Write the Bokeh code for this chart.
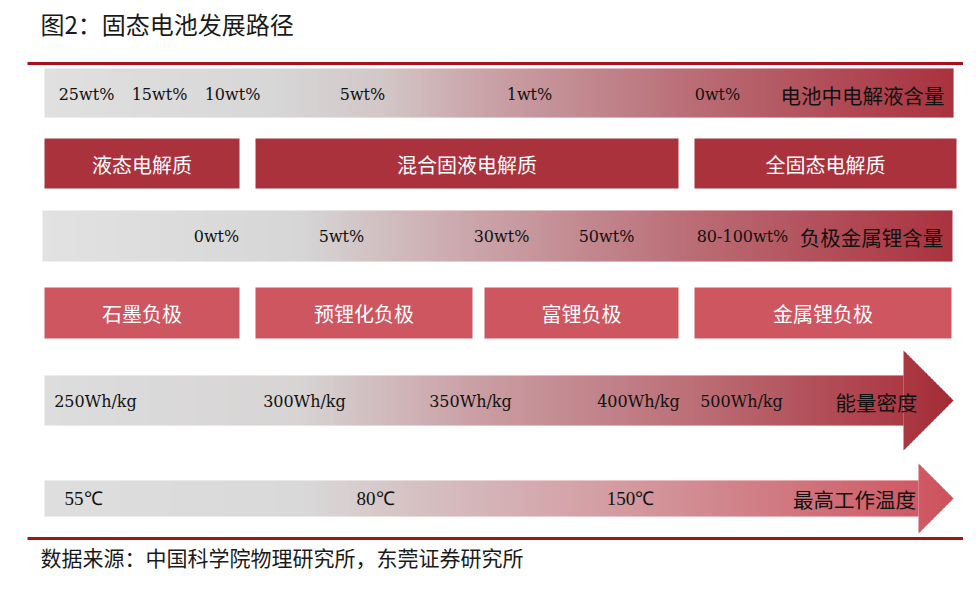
import numpy as np
from bokeh.plotting import figure
from bokeh.models import Range1d
from bokeh.core.properties import value
from bokeh.embed import file_html
from bokeh.resources import INLINE

# ---------------- data (texts) ----------------
title_text = "图2：固态电池发展路径"
source_text = "数据来源：中国科学院物理研究所，东莞证券研究所"

electrolyte_content = ["25wt%", "15wt%", "10wt%", "5wt%", "1wt%", "0wt%"]
electrolyte_content_name = "电池中电解液含量"
electrolyte_types = ["液态电解质", "混合固液电解质", "全固态电解质"]

lithium_content = ["0wt%", "5wt%", "30wt%", "50wt%", "80-100wt%"]
lithium_content_name = "负极金属锂含量"
anode_types = ["石墨负极", "预锂化负极", "富锂负极", "金属锂负极"]

energy_density = ["250Wh/kg", "300Wh/kg", "350Wh/kg", "400Wh/kg", "500Wh/kg"]
energy_density_name = "能量密度"

max_temperature = ["55℃", "80℃", "150℃"]
max_temperature_name = "最高工作温度"

# ---------------- layout (pixel positions in reference image) ----------------
row1_label_x = [86, 159, 232, 362, 529, 717]
row1_name_x = 862
row2_left = [44, 255, 694]
row2_right = [239, 678, 956]
row3_label_x = [216, 341, 501, 606, 742]
row3_name_x = 871
row4_left = [44, 255, 484, 694]
row4_right = [239, 472, 678, 951]
row5_label_x = [95, 304, 470, 638, 741]
row5_name_x = 876
row6_label_x = [83, 375, 630]
row6_name_x = 854

# gradient styles: (x, colour)
grad_row1 = [(44, "#e0e0e0"), (270, "#d7d7d7"), (380, "#d3c7c8"), (490, "#c9a1a6"),
             (700, "#b96b74"), (953, "#a8323e")]
grad_row3 = [(42, "#e2e2e2"), (300, "#d6d6d6"), (480, "#caa3a8"), (700, "#ba6b74"),
             (952, "#a9333f")]
grad_row5 = [(44, "#dddddd"), (300, "#d7d4d4"), (470, "#caa0a5"), (700, "#bb6d75"),
             (900, "#ab3a45"), (953, "#a22a35")]
grad_row6 = [(44, "#dedede"), (300, "#d9d9d9"), (420, "#d5c0c2"), (630, "#d3999f"),
             (850, "#cf6a73"), (953, "#cd525d")]

CJK = value("Noto Sans CJK SC")
NUM = value("DejaVu Serif")
SERIF = value("Liberation Serif")
RULE = "#a8101a"
BOX_DARK = "#a9323d"
BOX_LIGHT = "#cd5660"
TXT = "#111111"


def hex2rgb(h):
    h = h.lstrip("#")
    return np.array([int(h[i:i + 2], 16) for i in (0, 2, 4)], dtype=float)


def color_at(stops, x):
    xs = [s[0] for s in stops]
    cols = np.array([hex2rgb(s[1]) for s in stops])
    rgb = [np.interp(x, xs, cols[:, k]) for k in range(3)]
    return "#%02x%02x%02x" % tuple(int(round(v)) for v in rgb)


p = figure(width=963, height=577, x_range=Range1d(0, 963), y_range=Range1d(577, 0),
           output_backend="svg", toolbar_location=None,
           x_axis_location=None, y_axis_location=None, min_border=0)
p.grid.visible = False
p.outline_line_color = None
p.background_fill_color = "white"
p.border_fill_color = "white"


def gradient_bar(x0, x1, y0, y1, stops, step=2.0):
    lefts = np.arange(x0, x1, step)
    rights = np.minimum(lefts + step + 0.6, x1)
    cols = [color_at(stops, l + step / 2) for l in lefts]
    p.quad(left=lefts, right=rights, top=np.full(len(lefts), y0), bottom=np.full(len(lefts), y1),
           fill_color=cols, line_color=None)


def gradient_head(xb, xt, y0, y1, stops, step=1.5):
    c = (y0 + y1) / 2.0
    H = (y1 - y0) / 2.0
    xs, ys, cols = [], [], []
    a = xb
    while a < xt:
        b = min(a + step + 0.5, xt)
        ha = H * (xt - a) / (xt - xb)
        hb = H * (xt - b) / (xt - xb)
        xs.append([a, b, b, a])
        ys.append([c - ha, c - hb, c + hb, c + ha])
        cols.append(color_at(stops, a + step / 2))
        a += step
    p.patches(xs=xs, ys=ys, fill_color=cols, line_color=None)


def labels(xs, y, texts, font, size, color=TXT):
    p.text(x=xs, y=[y] * len(texts), text=texts, text_font=font, text_font_size=size,
           text_align="center", text_baseline="middle", text_color=color)


# rules
p.segment(x0=[27, 27], x1=[963, 963], y0=[63, 538], y1=[63, 538], line_color=RULE, line_width=3)

# row 1 gradient bar + labels
gradient_bar(44, 953, 68, 117, grad_row1)
labels(row1_label_x, 94, electrolyte_content, NUM, "16px")
labels([row1_name_x], 94, [electrolyte_content_name], CJK, "20.5px")

# row 2 boxes
p.quad(left=row2_left, right=row2_right, top=[138] * 3, bottom=[188] * 3,
       fill_color=BOX_DARK, line_color=None)
labels([(l + r) / 2 for l, r in zip(row2_left, row2_right)], 164, electrolyte_types, CJK, "20px", "white")

# row 3 gradient bar + labels
gradient_bar(42, 952, 210, 261, grad_row3)
labels(row3_label_x, 236, lithium_content, NUM, "16px")
labels([row3_name_x], 236, [lithium_content_name], CJK, "20.5px")

# row 4 boxes
p.quad(left=row4_left, right=row4_right, top=[287] * 4, bottom=[338] * 4,
       fill_color=BOX_LIGHT, line_color=None)
labels([(l + r) / 2 for l, r in zip(row4_left, row4_right)], 313, anode_types, CJK, "20px", "white")

# row 5 arrow (energy density)
gradient_bar(44, 903, 375, 425, grad_row5)
gradient_head(903, 953, 350, 450, grad_row5)
labels(row5_label_x, 401, energy_density, NUM, "16px")
labels([row5_name_x], 401, [energy_density_name], CJK, "20.5px")

# row 6 arrow (max temperature)
gradient_bar(44, 918, 480, 516, grad_row6)
gradient_head(918, 953, 463, 533, grad_row6)
labels(row6_label_x, 498, max_temperature, SERIF, "19px")
labels([row6_name_x], 498, [max_temperature_name], CJK, "20.5px")

# title and source
p.text(x=[40], y=[23], text=[title_text], text_font=CJK, text_font_size="24px",
       text_align="left", text_baseline="middle", text_color="#1a1a1a")
p.text(x=[40], y=[556], text=[source_text], text_font=CJK, text_font_size="21px",
       text_align="left", text_baseline="middle", text_color="#1a1a1a")

open("out.html", "w").write(file_html(p, INLINE))
